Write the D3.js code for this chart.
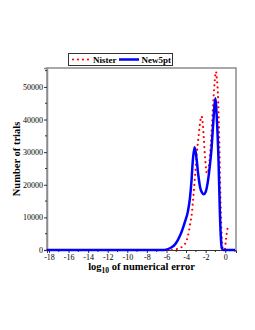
<!DOCTYPE html>
<html><head><meta charset="utf-8">
<script src="https://cdn.jsdelivr.net/npm/d3@7/dist/d3.min.js"></script>
<style>body{margin:0;background:#fff}svg{display:block}</style>
</head><body>
<script>
// Data
const nisterX = [-18.2, -6.0, -5.5, -4.9, -4.4, -4.0, -3.74, -3.57, -3.4, -3.3, -3.1, -2.9, -2.72, -2.55, -2.42, -2.3, -2.2, -2.04, -1.87, -1.75, -1.6, -1.36, -1.19, -1.05, -0.95, -0.85, -0.75, -0.6, -0.5, -0.4, -0.24, -0.05, 0.05, 0.15, 0.25];
const nisterY = [0, 0, 0, 300, 1000, 2500, 5200, 8200, 11400, 14800, 22000, 29700, 34800, 39400, 41000, 39000, 34800, 27600, 23500, 24000, 27600, 37800, 47000, 52500, 54700, 52500, 48000, 32800, 17500, 7100, 300, 0, 2500, 5000, 6800];
const new5X = [-18.2, -6.2, -5.6, -5.1, -4.6, -4.1, -3.8, -3.6, -3.45, -3.3, -3.13, -2.95, -2.75, -2.55, -2.35, -2.2, -2.0, -1.8, -1.6, -1.4, -1.2, -1.02, -0.85, -0.68, -0.55, -0.45, -0.34, -0.2, 1.0];
const new5Y = [0, 0, 600, 1800, 4500, 8800, 12000, 16000, 21000, 27800, 31500, 28500, 23000, 19000, 17500, 17100, 17800, 20500, 25000, 31000, 40000, 46500, 40000, 27000, 12000, 4000, 500, 0, 0];
const xTicks = [-18, -16, -14, -12, -10, -8, -6, -4, -2, 0];
const xMinor = [-17, -15, -13, -11, -9, -7, -5, -3, -1, 1];
const yTicks = [0, 10000, 20000, 30000, 40000, 50000];
const yMinor = [5000, 15000, 25000, 35000, 45000, 55000];
const seriesNames = ["Nister", "New5pt"];

const W = 255, H = 330;
const L = 47, R = 236, T = 68, B = 250;
const svg = d3.select("body").append("svg").attr("width", W).attr("height", H);
const x = d3.scaleLinear().domain([-18.2, 1.1]).range([L, R]);
const y = d3.scaleLinear().domain([0, 55800]).range([B, T]);
const font = "'Liberation Serif', 'Times New Roman', serif";

// frame
svg.append("path").attr("d", `M${L},${B}V${T}H${R}V${B}`)
  .attr("fill", "none").attr("stroke", "#8c8c8c").attr("stroke-width", 1.5);

// axes
const gx = svg.append("g").attr("transform", `translate(0,${B})`)
  .call(d3.axisBottom(x).tickValues(xTicks).tickSize(3).tickPadding(1).tickFormat(d => d === 0 ? "0" : "-" + Math.abs(d)));
gx.append("g").selectAll("line").data(xMinor).join("line")
  .attr("x1", d => x(d)).attr("x2", d => x(d)).attr("y1", 0).attr("y2", 2).attr("stroke", "#333");
const gy = svg.append("g").attr("transform", `translate(${L},0)`)
  .call(d3.axisLeft(y).tickValues(yTicks).tickSize(3).tickPadding(1).tickFormat(d3.format("d")));
gy.append("g").selectAll("line").data(yMinor.filter(v => v < 55800)).join("line")
  .attr("y1", d => y(d)).attr("y2", d => y(d)).attr("x1", 0).attr("x2", -2).attr("stroke", "#333");
[gx, gy].forEach(g => {
  g.select(".domain").attr("stroke", "#333");
  g.selectAll(".tick line").attr("stroke", "#333");
  g.selectAll("text").attr("font-family", font).attr("font-size", 8).attr("fill", "#000");
});
gy.select(".domain").attr("stroke", "#8c8c8c").attr("stroke-width", 1.5);

// lines
const line = d3.line().x(d => x(d[0])).y(d => y(d[1])).curve(d3.curveMonotoneX);
svg.append("path").datum(nisterX.map((v, i) => [v, nisterY[i]]))
  .attr("d", line).attr("fill", "none").attr("stroke", "#ff0000")
  .attr("stroke-width", 2.2).attr("stroke-linecap", "round").attr("stroke-dasharray", "0 5");
svg.append("path").datum(new5X.map((v, i) => [v, new5Y[i]]))
  .attr("d", line).attr("fill", "none").attr("stroke", "#0000ff")
  .attr("stroke-width", 2.5).attr("stroke-linejoin", "round");

// axis titles
svg.append("text").attr("transform", `translate(20,${(T + B) / 2}) rotate(-90)`)
  .attr("text-anchor", "middle").attr("font-family", font).attr("font-weight", "bold")
  .attr("font-size", 10.5).text("Number of trials");
const xt = svg.append("text").attr("x", (L + R) / 2).attr("y", 270)
  .attr("text-anchor", "middle").attr("font-family", font).attr("font-weight", "bold").attr("font-size", 10.5);
xt.append("tspan").text("log");
xt.append("tspan").attr("font-size", 7.5).attr("dy", 3).text("10");
xt.append("tspan").attr("dy", -3).text(" of numerical error");

// legend
const lg = svg.append("g");
lg.append("rect").attr("x", 68.5).attr("y", 53.5).attr("width", 104).attr("height", 12)
  .attr("fill", "#fff").attr("stroke", "#333").attr("stroke-width", 1);
lg.append("line").attr("x1", 73).attr("x2", 90).attr("y1", 59.5).attr("y2", 59.5)
  .attr("stroke", "#ff0000").attr("stroke-width", 2.2).attr("stroke-linecap", "round").attr("stroke-dasharray", "0 5");
lg.append("text").attr("x", 93).attr("y", 63).attr("font-family", font).attr("font-weight", "bold")
  .attr("font-size", 9).text(seriesNames[0]);
lg.append("line").attr("x1", 119).attr("x2", 139).attr("y1", 59.5).attr("y2", 59.5)
  .attr("stroke", "#0000ff").attr("stroke-width", 2.5);
lg.append("text").attr("x", 141.5).attr("y", 63).attr("font-family", font).attr("font-weight", "bold")
  .attr("font-size", 9).text(seriesNames[1]);
</script>
</body></html>
